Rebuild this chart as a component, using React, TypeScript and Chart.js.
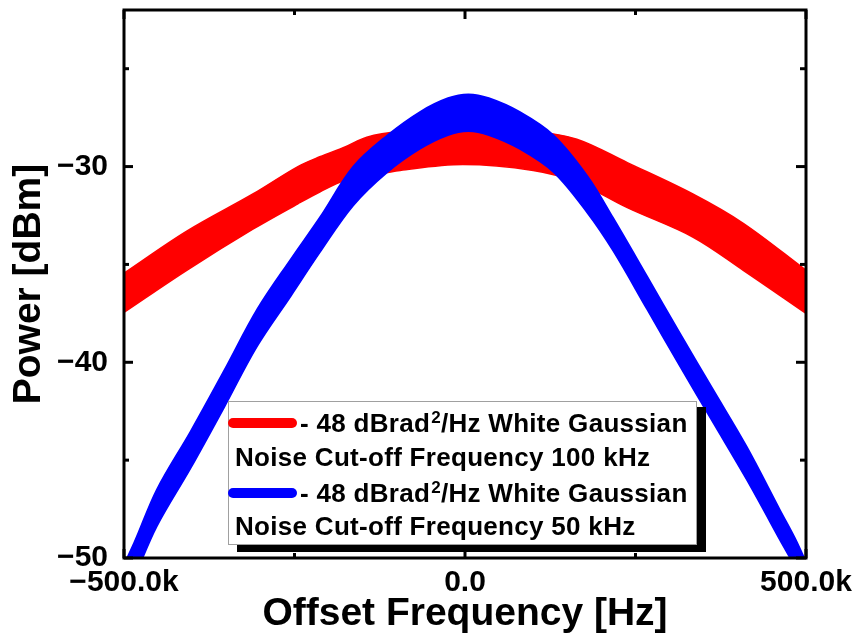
import { useEffect, useRef } from "react";
import { Chart, registerables } from "chart.js";

Chart.register(...registerables);

// ---- Data (offset frequency in kHz, power in dBm; band = upper/lower edge of the noisy trace) ----
const redFreq = [-500, -408, -311, -245, -213, -176, -144, -95, -3, 100, 164, 238, 334, 408, 500];
const redUpper = [-35.45, -33.3, -31.4, -30.0, -29.5, -29.0, -28.5, -28.2, -28.0, -28.2, -28.6, -29.8, -31.4, -32.9, -35.3];
const redLower = [-37.45, -35.3, -33.2, -31.9, -31.3, -30.7, -30.5, -30.2, -29.9, -30.2, -30.8, -32.1, -33.6, -35.3, -37.5];

const blueFreq = [-520, -485, -452, -402, -353, -305, -255, -213, -164, -114, -66, -25, 5, 35, 80, 130, 180, 217, 267, 315, 364, 413, 462, 487, 520];
const blueUpper = [-51.8, -49.2, -46.5, -43.5, -40.4, -37.3, -34.7, -32.6, -30.0, -28.4, -27.2, -26.5, -26.3, -26.5, -27.2, -28.4, -30.5, -32.6, -35.6, -38.5, -41.4, -44.3, -47.55, -49.2, -51.8];
const blueLower = [-53.5, -51.0, -48.4, -45.4, -42.3, -39.2, -36.6, -34.4, -32.0, -30.3, -29.1, -28.4, -28.2, -28.4, -29.1, -30.3, -32.4, -34.3, -37.3, -40.2, -43.1, -46.0, -49.1, -50.7, -53.5];

const xMajorTicks = [-500, 0, 500];
const xTickLabels = ["\u2212500.0k", "0.0", "500.0k"];
const xMinorTicks = [-250, 250];
const yMajorTicks = [-50, -40, -30];
const yTickLabels = ["\u221250", "\u221240", "\u221230"];
const yMinorTicks = [-45, -35, -25];

const xTitle = "Offset Frequency [Hz]";
const yTitle = "Power [dBm]";

const legendColors = ["#ff0000", "#0000ff"];
const legendHead = ["- 48 dBrad", "- 48 dBrad"];
const legendTail = ["/Hz White Gaussian", "/Hz White Gaussian"];
const legendSecond = ["Noise Cut-off Frequency 100 kHz", "Noise Cut-off Frequency 50 kHz"];

const FONT = '"Liberation Sans", Arial, sans-serif';

const toPts = (xs: number[], ys: number[]) => xs.map((x, i) => ({ x, y: ys[i] }));

const decorPlugin = {
  id: "decor",
  afterDatasetsDraw(chart: any) {
    const { ctx, chartArea: a, scales } = chart;
    const xs = scales.x;
    const ys = scales.y;
    ctx.save();

    // ---- legend ----
    const bx = 228, by = 401, bw = 469, bh = 144;
    ctx.fillStyle = "#000";
    ctx.fillRect(bx + 9, by + 6, bw, bh + 1);
    ctx.fillStyle = "#fff";
    ctx.fillRect(bx, by, bw, bh);
    ctx.strokeStyle = "#a0a0a0";
    ctx.lineWidth = 1;
    ctx.strokeRect(bx + 0.5, by + 0.5, bw - 1, bh - 1);

    const rowBase = [432, 466, 502, 535];
    for (let k = 0; k < 2; k++) {
      const b1 = rowBase[k * 2];
      const b2 = rowBase[k * 2 + 1];
      ctx.strokeStyle = legendColors[k];
      ctx.lineWidth = 10;
      ctx.lineCap = "round";
      ctx.beginPath();
      ctx.moveTo(233, b1 - 9);
      ctx.lineTo(292, b1 - 9);
      ctx.stroke();
      ctx.lineCap = "butt";

      ctx.fillStyle = "#000";
      ctx.textBaseline = "alphabetic";
      ctx.textAlign = "left";
      (ctx as any).letterSpacing = "0.3px";
      ctx.font = `bold 26px ${FONT}`;
      let tx = 300;
      ctx.fillText(legendHead[k], tx, b1);
      tx += ctx.measureText(legendHead[k]).width;
      ctx.font = `bold 17px ${FONT}`;
      ctx.fillText("2", tx + 1, b1 - 9);
      tx += ctx.measureText("2").width + 1;
      ctx.font = `bold 26px ${FONT}`;
      ctx.fillText(legendTail[k], tx, b1);
      ctx.fillText(legendSecond[k], 235, b2);
      (ctx as any).letterSpacing = "0px";
    }

    // ---- frame ----
    ctx.strokeStyle = "#000";
    ctx.lineWidth = 3;
    ctx.strokeRect(a.left, a.top, a.right - a.left, a.bottom - a.top);

    // ---- inward ticks ----
    const tick = (x1: number, y1: number, x2: number, y2: number) => {
      ctx.beginPath();
      ctx.moveTo(x1, y1);
      ctx.lineTo(x2, y2);
      ctx.stroke();
    };
    ctx.lineWidth = 3;
    xMajorTicks.forEach((v) => {
      const p = xs.getPixelForValue(v);
      tick(p, a.bottom, p, a.bottom - 9);
      tick(p, a.top, p, a.top + 9);
    });
    xMinorTicks.forEach((v) => {
      const p = xs.getPixelForValue(v);
      tick(p, a.bottom, p, a.bottom - 5);
      tick(p, a.top, p, a.top + 5);
    });
    yMajorTicks.forEach((v) => {
      const p = ys.getPixelForValue(v);
      tick(a.left, p, a.left + 9, p);
      tick(a.right, p, a.right - 10, p);
    });
    yMinorTicks.forEach((v) => {
      const p = ys.getPixelForValue(v);
      tick(a.left, p, a.left + 5, p);
      tick(a.right, p, a.right - 6, p);
    });
    ctx.restore();
  },
};

export default function App() {
  const ref = useRef<HTMLCanvasElement>(null);

  useEffect(() => {
    const common = {
      pointRadius: 0,
      borderWidth: 1.5,
      tension: 0.35,
    };
    const chart = new Chart(ref.current!, {
      type: "line",
      data: {
        datasets: [
          {
            ...common,
            data: toPts(redFreq, redUpper),
            borderColor: "#ff0000",
            backgroundColor: "#ff0000",
            fill: "+1",
            order: 1,
          },
          {
            ...common,
            data: toPts(redFreq, redLower),
            borderColor: "#ff0000",
            backgroundColor: "#ff0000",
            fill: false,
            order: 1,
          },
          {
            ...common,
            data: toPts(blueFreq, blueUpper),
            borderColor: "#0000ff",
            backgroundColor: "#0000ff",
            fill: "+1",
            order: 0,
          },
          {
            ...common,
            data: toPts(blueFreq, blueLower),
            borderColor: "#0000ff",
            backgroundColor: "#0000ff",
            fill: false,
            order: 0,
          },
        ],
      },
      options: {
        responsive: false,
        animation: false,
        layout: { padding: { left: 0, right: 52, top: 10, bottom: 0 } },
        plugins: {
          legend: { display: false },
          tooltip: { enabled: false },
        },
        scales: {
          x: {
            type: "linear",
            min: -500,
            max: 500,
            grid: { display: false, drawTicks: false },
            border: { display: false },
            afterBuildTicks: (s: any) => {
              s.ticks = xMajorTicks.map((v) => ({ value: v }));
            },
            ticks: {
              autoSkip: false,
              maxRotation: 0,
              padding: 7,
              color: "#000",
              font: { family: FONT, size: 30, weight: "bold" },
              callback: (v: any) => xTickLabels[xMajorTicks.indexOf(Number(v))],
            },
            title: {
              display: true,
              text: xTitle,
              color: "#000",
              font: { family: FONT, size: 39, weight: "bold" },
              padding: { top: 0, bottom: 1 },
            },
            afterFit: (s: any) => {
              s.height = 81;
              s.paddingLeft = 0;
              s.paddingRight = 0;
            },
          },
          y: {
            type: "linear",
            min: -50,
            max: -22,
            grid: { display: false, drawTicks: false },
            border: { display: false },
            afterBuildTicks: (s: any) => {
              s.ticks = yMajorTicks.map((v) => ({ value: v }));
            },
            ticks: {
              padding: 16,
              color: "#000",
              font: { family: FONT, size: 30, weight: "bold" },
              callback: (v: any) => yTickLabels[yMajorTicks.indexOf(Number(v))],
            },
            title: {
              display: true,
              text: yTitle,
              color: "#000",
              font: { family: FONT, size: 39, weight: "bold" },
              padding: { top: 6, bottom: 0 },
            },
            afterFit: (s: any) => {
              s.width = 124;
              s.paddingTop = 0;
              s.paddingBottom = 0;
            },
          },
        },
      },
      plugins: [decorPlugin],
    } as any);
    return () => chart.destroy();
  }, []);

  return (
    <div style={{ position: "fixed", left: 0, top: 0, width: 858, height: 639, background: "#fff" }}>
      <canvas ref={ref} width={858} height={639} style={{ display: "block", width: 858, height: 639 }} />
    </div>
  );
}
